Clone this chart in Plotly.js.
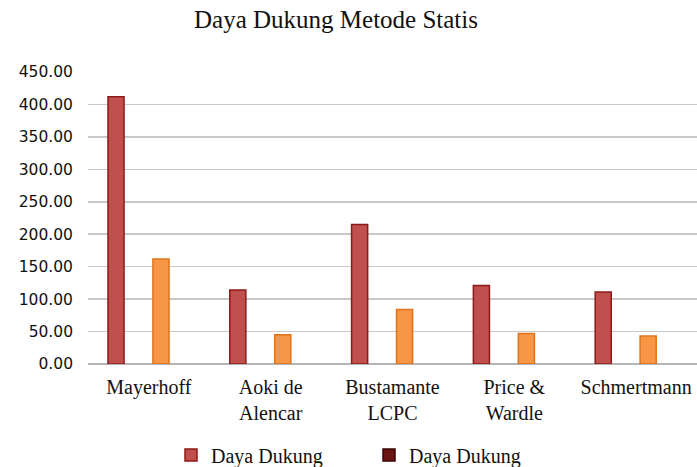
<!DOCTYPE html>
<html>
<head>
<meta charset="utf-8">
<script src="https://cdn.plot.ly/plotly-3.0.1.min.js"></script>
<style>html,body{margin:0;padding:0;background:#fff;}#chart{width:697px;height:467px;}</style>
</head>
<body>
<div id="chart"></div>
<script>
const categories = ['Mayerhoff', 'Aoki de Alencar', 'Bustamante LCPC', 'Price & Wardle', 'Schmertmann'];
const tickLabels = ['Mayerhoff', 'Aoki de<br>Alencar', 'Bustamante<br>LCPC', 'Price &<br>Wardle', 'Schmertmann'];
const seriesName = 'Daya Dukung';
const redValues = [412, 114, 215, 121, 111];
const orangeValues = [162, 45, 84, 47, 43];
const emptyValues = [null, null, null, null, null];
const yTicks = [0, 50, 100, 150, 200, 250, 300, 350, 400, 450];

const SERIF = 'Liberation Serif, Times New Roman, serif';
const SANS = 'DejaVu Sans, Verdana, sans-serif';
const barW = 0.132;
const traces = [
  {type: 'bar', name: seriesName, x: categories, y: redValues, width: barW, offset: -0.336,
   marker: {color: '#C0504D', line: {color: '#8C1A1A', width: 1.5}}, showlegend: true},
  {type: 'bar', name: seriesName, x: categories, y: orangeValues, width: barW, offset: 0.033,
   marker: {color: '#F79646', line: {color: '#E0731A', width: 1.5}}, showlegend: false},
  {type: 'bar', name: seriesName, x: categories, y: emptyValues, width: barW, offset: 0.4,
   marker: {color: '#6B1414', line: {color: '#3A0505', width: 1.5}}, showlegend: true}
];

const layout = {
  width: 697, height: 467,
  margin: {l: 88, r: 0, t: 72, b: 103},
  paper_bgcolor: '#ffffff', plot_bgcolor: '#ffffff',
  font: {family: SERIF, color: '#111111', size: 20},
  title: {text: 'Daya Dukung Metode Statis', font: {family: SERIF, size: 25, color: '#111111'},
          x: 336/697, xanchor: 'center', xref: 'container', y: 1 - 19/467, yanchor: 'middle', yref: 'container'},
  barmode: 'overlay',
  showlegend: true,
  legend: {orientation: 'h', x: 171/697, xanchor: 'left', xref: 'container', y: 12/467, yanchor: 'middle', yref: 'container',
           font: {family: SERIF, size: 20, color: '#111111'},
           entrywidth: 153, entrywidthmode: 'pixels', itemwidth: 30, traceorder: 'normal'},
  xaxis: {type: 'category', range: [-0.5, 4.5], tickvals: categories, ticktext: tickLabels,
          showgrid: false, zeroline: false, showline: false, ticks: '', ticklabelstandoff: 9,
          tickfont: {family: SERIF, size: 20, color: '#111111'}},
  yaxis: {range: [0, 450], tickvals: yTicks, tickformat: '.2f', showgrid: true, gridcolor: '#C8C8C8', gridwidth: 1.5,
          zeroline: true, zerolinecolor: '#B5B5B5', zerolinewidth: 2, showline: false, ticks: '',
          ticklabelstandoff: 14,
          tickfont: {family: SANS, size: 15.5, color: '#111111'}}
};

Plotly.newPlot('chart', traces, layout, {displayModeBar: false, staticPlot: true});
</script>
</body>
</html>
